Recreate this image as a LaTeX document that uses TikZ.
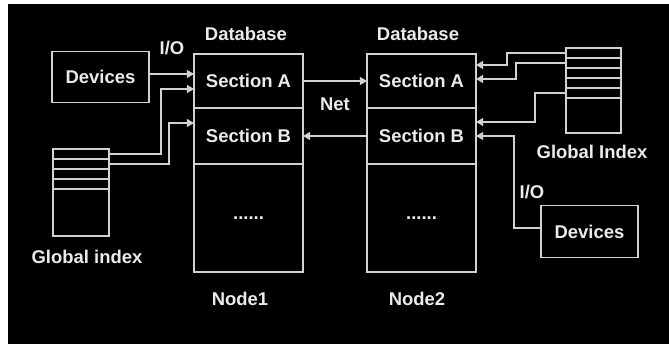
\documentclass[tikz,border=0pt]{standalone}
\usepackage{fontspec}
\setmainfont{Liberation Sans}
\usetikzlibrary{arrows.meta, positioning, calc}
\definecolor{linegray}{RGB}{210,210,210}
\definecolor{textwhite}{RGB}{235,235,235}
\begin{document}
\begin{tikzpicture}[
    x=0.02cm, y=-0.02cm,
    every node/.style={font=\fontsize{10.5}{12}\selectfont\bfseries, text=textwhite},
    section/.style={rectangle, draw=linegray, line width=0.7pt, inner sep=0pt, outer sep=0pt, minimum width=2.18cm},
    devbox/.style={rectangle, draw=linegray, line width=0.7pt, inner sep=0pt, outer sep=0pt, minimum width=1.94cm, minimum height=1.03cm},
    idxrow/.style={rectangle, draw=linegray, line width=0.7pt, inner sep=0pt, outer sep=0pt, minimum height=0.2cm},
    label/.style={inner sep=1pt},
    arrow/.style={-{Triangle[length=4pt, width=4.5pt]}, draw=linegray, line width=0.7pt}
]

% Background
\useasboundingbox[fill=white] (0,0) rectangle (669,344);
\fill[black] (8,4) rectangle (669,344);

% Node1: database sections
\node[label] (db1) at (246,34) {Database};
\node[section, minimum height=1.08cm] (secA1) at (248.5,81) {Section A};
\node[section, minimum height=1.12cm] (secB1) at (248.5,136) {Section B};
\node[section, minimum height=2.16cm] (rest1) at (248.5,218) {......};
\node[label] (node1) at (240,299) {Node1};

% Node2: database sections
\node[label] (db2) at (418,34) {Database};
\node[section, minimum height=1.08cm] (secA2) at (421.5,81) {Section A};
\node[section, minimum height=1.12cm] (secB2) at (421.5,136) {Section B};
\node[section, minimum height=2.16cm] (rest2) at (421.5,218) {......};
\node[label] (node2) at (417,299) {Node2};

% Left side: devices and global index
\node[devbox] (dev1) at (100.5,77) {Devices};
\node[label] (io1) at (172,48) {I/O};
\foreach \i in {1,...,4}
    \node[idxrow, minimum width=1.12cm] (gl\i) at (81,144+10*\i) {};
\node[idxrow, minimum width=1.12cm, minimum height=0.94cm] (glb) at (81,212.5) {};
\node[label] (gltext) at (87,257) {Global index};

% Right side: global index and devices
\foreach \i in {1,...,5}
    \node[idxrow, minimum width=1.1cm] (gr\i) at (593.5,43+10*\i) {};
\node[idxrow, minimum width=1.1cm, minimum height=0.7cm] (grb) at (593.5,115.5) {};
\node[label] (grtext) at (592,152) {Global Index};
\node[devbox] (dev2) at (589.5,231.5) {Devices};
\node[label] (io2) at (532,192) {I/O};

% Net between nodes
\draw[arrow] (secA1.east) -- node[below=6pt] (net) {Net} (secA2.west);
\draw[arrow] (secB2.west) -- (secB1.east);

% Arrows into Node1
\draw[arrow] (dev1.east |- 0,74) -- (secA1.west |- 0,74);
\draw[arrow] (gl1.east) -| (161,89) -- (secA1.west |- 0,89);
\draw[arrow] (gl2.east) -| (169,123) -- (secB1.west |- 0,123);

% Arrows into Node2
\draw[arrow] (gr1.west) -| (507,65) -- (secA2.east |- 0,65);
\draw[arrow] (gr2.west) -| (516,79) -- (secA2.east |- 0,79);
\draw[arrow] (gr5.west) -| (535,122) -- (secB2.east |- 0,122);
\draw[arrow] (dev2.west |- 0,228) -| (514,136) -- (secB2.east);

\end{tikzpicture}
\end{document}
